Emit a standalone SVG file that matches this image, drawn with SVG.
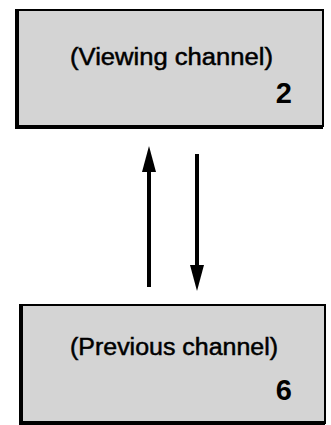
<svg xmlns="http://www.w3.org/2000/svg" width="331" height="425" viewBox="0 0 331 425">
<style>
.box{fill:#d4d4d4;stroke:#000;stroke-width:2}
.lbl{font-family:"Liberation Sans",Arial,sans-serif;font-size:23.5px;fill:#000;stroke:#000;stroke-width:0.5}
.num{font-family:"Liberation Sans",Arial,sans-serif;font-size:29px;font-weight:bold;fill:#000}
.ln{stroke:#000;stroke-width:4;fill:none}
</style>
<rect width="331" height="425" fill="#fff"/>
<g id="viewing">
<rect class="box" x="16" y="10" width="307" height="116"/>
<path d="M17,10 V127 H323" stroke="#000" stroke-width="4" fill="none"/>
<text class="lbl" x="70" y="65" textLength="203" lengthAdjust="spacingAndGlyphs">(Viewing channel)</text>
<text class="num" x="292" y="103" text-anchor="end">2</text>
</g>
<g id="previous">
<rect class="box" x="20" y="305" width="305" height="118"/>
<path d="M21,305 V423 H325" stroke="#000" stroke-width="4" fill="none"/>
<text class="lbl" x="70" y="355" textLength="208" lengthAdjust="spacingAndGlyphs">(Previous channel)</text>
<text class="num" x="292" y="400" text-anchor="end">6</text>
</g>
<g id="connectors">
<line class="ln" x1="149" y1="287" x2="149" y2="168"/>
<path d="M149,146 L142,172 L156,172 Z" fill="#000"/>
<line class="ln" x1="197" y1="154" x2="197" y2="268"/>
<path d="M197,291 L190,265 L204,265 Z" fill="#000"/>
</g>
</svg>
